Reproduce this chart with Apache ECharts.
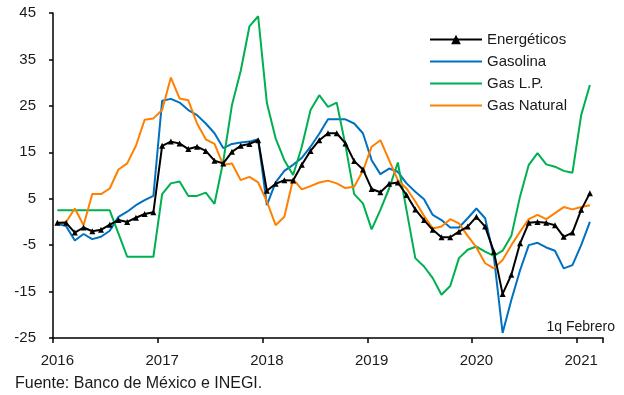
<!DOCTYPE html>
<html>
<head>
<meta charset="utf-8">
<script src="https://cdn.jsdelivr.net/npm/echarts@6/dist/echarts.min.js"></script>
<style>
html,body{margin:0;padding:0;background:#fff;}
#chart{width:624px;height:395px;}
</style>
</head>
<body>
<div id="chart"></div>
<script>
// Monthly categories Jan 2016 .. Mar 2021 (last one empty, axis extends one month past data)
const startYear = 2016;
const nCategories = 63;
const tickYears = ['2016', '2017', '2018', '2019', '2020', '2021'];
const yTicks = [-25, -15, -5, 5, 15, 25, 35, 45];

const seriesNames = ['Energéticos', 'Gasolina', 'Gas L.P.', 'Gas Natural'];

const energeticos = [
  -0.2, -0.2, -2.3, -1.2, -2.0, -1.7, -0.6, 0.4, 0.0, 0.9, 1.7, 2.1,
  16.4, 17.3, 16.9, 15.7, 16.2, 15.3, 13.2, 12.6, 15.1, 16.4, 16.8, 17.6,
  6.7, 8.2, 9.0, 8.9, 12.3, 15.3, 17.6, 19.1, 19.1, 16.9, 13.1, 11.3,
  7.1, 6.4, 8.2, 8.5, 5.8, 2.7, 0.4, -1.7, -3.3, -3.3, -2.1, -1.0,
  1.1, -1.0, -6.4, -15.5, -11.4, -4.6, -0.2, 0.0, -0.2, -0.7, -3.2, -2.3, 2.6, 6.2
];
const gasolina = [
  -0.4, -0.9, -4.0, -2.6, -3.7, -3.2, -1.9, 1.1, 2.2, 3.6, 4.7, 5.6,
  26.1, 26.5, 25.7, 24.1, 23.0, 21.2, 19.1, 15.9, 16.8, 17.1, 17.3, 17.8,
  3.6, 8.5, 11.0, 12.3, 13.8, 16.2, 19.0, 22.1, 22.1, 22.1, 21.2, 19.1,
  13.3, 10.3, 11.5, 10.8, 8.3, 6.5, 4.9, 1.5, 0.4, -1.2, -1.2, 0.8,
  2.9, 0.8, -7.5, -23.9, -16.8, -10.4, -5.0, -4.5, -5.5, -6.2, -10.0, -9.3, -5.0, 0.0
];
const gasLP = [
  2.5, 2.5, 2.5, 2.5, 2.5, 2.5, 2.5, -2.5, -7.5, -7.5, -7.5, -7.5,
  6.0, 8.3, 8.7, 5.6, 5.6, 6.3, 3.9, 13.0, 25.2, 32.5, 42.1, 44.3,
  25.6, 18.0, 13.3, 10.1, 16.2, 24.1, 27.3, 24.8, 25.7, 16.5, 6.0, 4.0,
  -1.6, 2.6, 7.2, 12.8, 2.5, -7.8, -9.6, -12.1, -15.7, -13.8, -7.8, -6.0,
  -5.3, -6.4, -7.3, -6.2, -3.0, 5.5, 12.3, 14.8, 12.4, 11.9, 11.0, 10.6, 23.0, 29.5
];
const gasNatural = [
  -0.3, 0.0, 2.9, -0.7, 6.0, 6.0, 7.2, 11.3, 12.6, 16.4, 22.0, 22.3,
  24.1, 31.1, 26.6, 26.2, 21.2, 17.8, 16.8, 12.3, 12.6, 9.0, 9.7, 8.5,
  4.4, -0.7, 1.1, 9.2, 7.0, 7.7, 8.5, 8.9, 8.3, 7.3, 7.6, 11.0,
  16.2, 17.6, 13.3, 9.0, 7.2, 4.4, 1.3, -1.4, -1.0, 0.6, -0.3, -3.0,
  -5.5, -8.9, -10.0, -8.2, -5.0, -2.1, 0.6, 1.5, 0.6, 1.9, 3.2, 2.7, 3.2, 3.6
];

const categories = [];
for (let i = 0; i < nCategories; i++) {
  const y = startYear + Math.floor(i / 12);
  const m = (i % 12) + 1;
  categories.push(y + '-' + (m < 10 ? '0' + m : m));
}

const chart = echarts.init(document.getElementById('chart'), null, {renderer: 'canvas'});
const FONT = 'Liberation Sans, Arial, sans-serif';
const txt = '#1a1a1a';

function lineSeries(name, data, color, extra) {
  return Object.assign({
    name: name,
    type: 'line',
    data: data,
    symbol: 'none',
    lineStyle: {color: color, width: 2},
    itemStyle: {color: color},
    emphasis: {disabled: true},
    z: 2
  }, extra || {});
}

chart.setOption({
  animation: false,
  backgroundColor: '#fff',
  grid: {left: 53, right: 21, top: 13, bottom: 57, containLabel: false},
  legend: {
    orient: 'vertical',
    left: 424,
    top: 27,
    itemWidth: 52,
    itemHeight: 12,
    itemGap: 7,
    textStyle: {fontFamily: FONT, fontSize: 15, color: txt, lineHeight: 15},
    data: [
      {name: seriesNames[0]},
      {name: seriesNames[1], itemStyle: {opacity: 0}},
      {name: seriesNames[2], itemStyle: {opacity: 0}},
      {name: seriesNames[3], itemStyle: {opacity: 0}}
    ]
  },
  xAxis: {
    type: 'category',
    data: categories,
    boundaryGap: true,
    axisLine: {onZero: false, lineStyle: {color: '#000', width: 1.5}},
    axisTick: {
      show: true,
      interval: function (idx) { return idx % 12 === 0; },
      length: 5,
      lineStyle: {color: '#000', width: 1.5}
    },
    axisLabel: {
      interval: 11,
      margin: 15,
      fontFamily: FONT,
      fontSize: 15,
      color: txt,
      formatter: function (v, idx) { return tickYears[Math.floor(idx / 12)] || ''; }
    },
    splitLine: {show: false}
  },
  yAxis: {
    type: 'value',
    min: yTicks[0],
    max: yTicks[yTicks.length - 1],
    interval: 10,
    axisLine: {show: true, lineStyle: {color: '#000', width: 1.5}},
    axisTick: {show: true, length: 4, lineStyle: {color: '#000', width: 1.5}},
    axisLabel: {margin: 17, fontFamily: FONT, fontSize: 15, color: txt},
    splitLine: {show: false}
  },
  graphic: [
    {type: 'text', left: 15, top: 376, style: {text: 'Fuente: Banco de México e INEGI.', font: '16px ' + FONT, fill: txt}},
    {type: 'text', right: 9, top: 320, style: {text: '1q Febrero', font: '14px ' + FONT, fill: txt}}
  ],
  series: [
    lineSeries(seriesNames[1], gasolina, '#0070C0'),
    lineSeries(seriesNames[2], gasLP, '#00B050'),
    lineSeries(seriesNames[3], gasNatural, '#FF8000'),
    lineSeries(seriesNames[0], energeticos, '#000000', {
      symbol: 'triangle', symbolSize: 6, showSymbol: true, showAllSymbol: true, z: 3
    })
  ]
});
</script>
</body>
</html>
